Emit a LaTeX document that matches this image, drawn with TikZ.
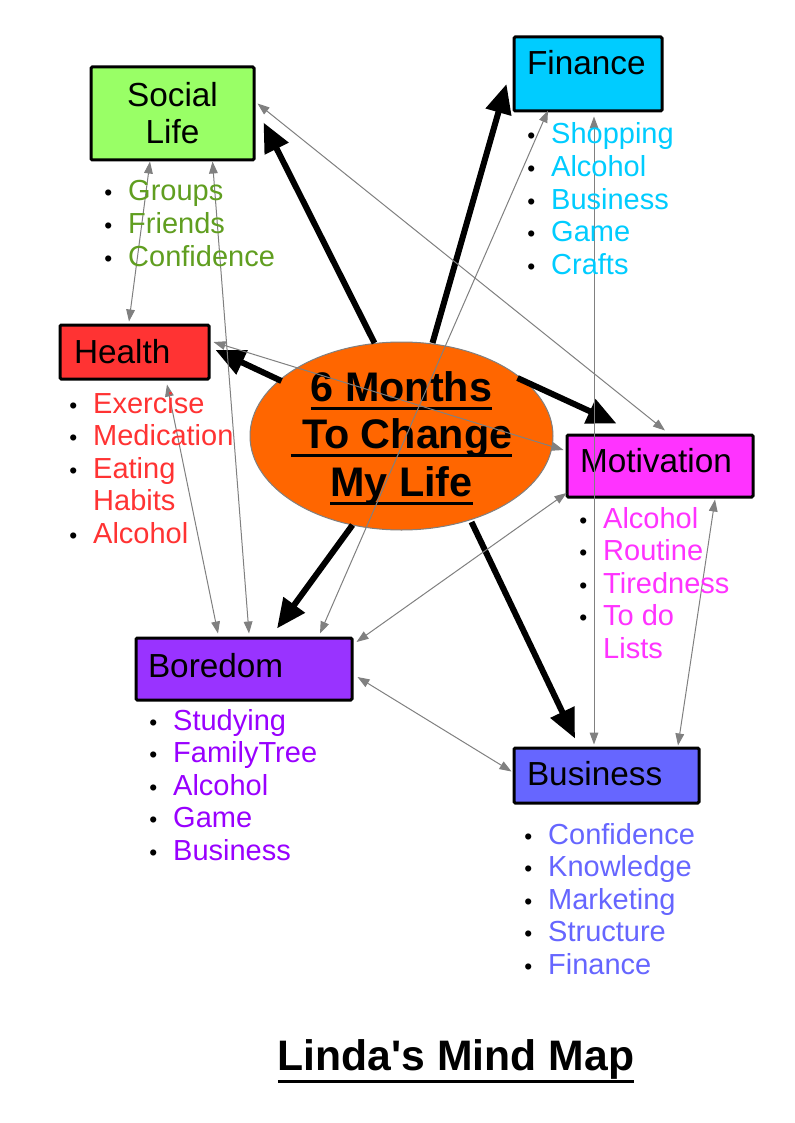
\documentclass[tikz,border=0pt]{standalone}
\usepackage{fontspec}
\setmainfont{Liberation Sans}
\usetikzlibrary{arrows.meta,shapes.geometric}
\definecolor{socialfill}{HTML}{99FF66}
\definecolor{socialtext}{RGB}{96,158,32}
\definecolor{finfill}{HTML}{00CCFF}
\definecolor{fintext}{HTML}{00CCFF}
\definecolor{healthfill}{HTML}{FF3333}
\definecolor{healthtext}{HTML}{FF3333}
\definecolor{motfill}{HTML}{FF33FF}
\definecolor{mottext}{HTML}{FF33FF}
\definecolor{borfill}{HTML}{9933FF}
\definecolor{bortext}{HTML}{9900FF}
\definecolor{busfill}{HTML}{6666FF}
\definecolor{bustext}{HTML}{6666FF}
\definecolor{corefill}{HTML}{FF6600}
\definecolor{linkgray}{HTML}{808080}
\newsavebox\ulsave
\newcommand\ulbox[3]{\sbox\ulsave{#3}\rlap{\rule[#1]{\wd\ulsave}{#2}}\usebox\ulsave}
\newcommand\bul{{\fontsize{17}{20}\selectfont\textcolor{black}{•}}}
\tikzset{
  box/.style={draw=black, line width=2.25pt, rounded corners=1pt, inner sep=0pt,
    font=\fontsize{25}{27.75}\selectfont, text=black},
  lbox/.style={box, align=left, text height=18pt},
  blist/.style={anchor=base west, inner sep=0pt, font=\fontsize{21.75}{24.4}\selectfont},
  bigarrow/.style={line width=4.5pt, -{Triangle[length=22pt,width=19pt]}},
  link/.style={draw=linkgray, line width=0.75pt,
    {Triangle[length=9pt,width=6.5pt]}-{Triangle[length=9pt,width=6.5pt]}},
  coretext/.style={align=center, inner sep=0pt, font=\bfseries\fontsize{31}{35.6}\selectfont}
}
\begin{document}
\begin{tikzpicture}[x=0.75pt,y=-0.75pt]
\useasboundingbox (0,0) rectangle (794,1123);
\fill[white] (0,0) rectangle (794,1123);

% central ellipse
\node[ellipse, draw=linkgray, line width=0.75pt, fill=corefill, minimum width=227.25pt,
  minimum height=141pt, inner sep=0pt] (core) at (401.5,436) {};

% boxes
\node[box, fill=socialfill, minimum width=122.25pt, minimum height=69.75pt, align=center]
  (social) at (172.5,113.5) {Social\\Life};
\node[lbox, fill=finfill, minimum width=111pt, minimum height=55.5pt, text width=91.5pt,
  text depth=16.5pt] (finance) at (588,74) {Finance};
\node[lbox, fill=healthfill, minimum width=111.75pt, minimum height=40.5pt, text width=90.75pt,
  text depth=1.5pt] (health) at (134.5,352) {Health};
\node[lbox, fill=motfill, minimum width=139.5pt, minimum height=46.5pt, text width=120pt,
  text depth=9pt] (motivation) at (660,466) {Motivation};
\node[lbox, fill=borfill, minimum width=162pt, minimum height=46.5pt, text width=144pt,
  text depth=6pt] (boredom) at (244,669) {Boredom};
\node[lbox, fill=busfill, minimum width=138.75pt, minimum height=41.25pt, text width=119.25pt,
  text depth=3.75pt] (business) at (606.5,775.5) {Business};

% thick arrows
\draw[bigarrow] ([shift={(-27,-93)}]core.center) -- ([shift={(8,9)}]social.east);
\draw[bigarrow] ([shift={(31,-93)}]core.center) -- ([shift={(-6,10)}]finance.west);
\draw[bigarrow] ([shift={(-120,-55)}]core.center) -- ([shift={(5,-2)}]health.east);
\draw[bigarrow] ([shift={(116,-58)}]core.center) -- ([shift={(51,-10)}]motivation.north west);
\draw[bigarrow] ([shift={(-49,89)}]core.center) -- ([shift={(33,-8)}]boredom.north);
\draw[bigarrow] ([shift={(70,86)}]core.center) -- ([shift={(-31.5,-8)}]business.north);

% central text
\node[coretext] (coretitle) at (401.5,438)
  {\ulbox{-6.4pt}{2.25pt}{6 Months}\\ \ulbox{-6.4pt}{2.25pt}{\space To Change}\\ \ulbox{-6.4pt}{2.25pt}{My Life}};

% gray links
\draw[link] ([shift={(-22.5,0)}]social.south) -- ([shift={(-5.5,-2)}]health.north);
\draw[link] ([shift={(40,0)}]social.south) -- ([shift={(5,-3)}]boredom.north);
\draw[link] ([shift={(2,-10)}]social.east) -- ([shift={(5,-3)}]motivation.north);
\draw[link] ([shift={(3,-10)}]health.east) -- ([shift={(-2,-16)}]motivation.west);
\draw[link] ([shift={(32.5,4)}]health.south) -- ([shift={(-26,-3)}]boredom.north);
\draw[link] ([shift={(-40,-2)}]finance.south) -- ([shift={(76,-3)}]boredom.north);
\draw[link] ([shift={(6,4)}]finance.south) -- ([shift={(-12.5,-2)}]business.north);
\draw[link] ([shift={(55,1)}]motivation.south) -- ([shift={(71.5,-1)}]business.north);
\draw[link] ([shift={(1,27)}]motivation.west) -- ([shift={(3,-27)}]boredom.east);
\draw[link] ([shift={(4,8)}]boredom.east) -- ([shift={(-1,-4)}]business.west);

% lists
\node[blist, text=socialtext] (social-list) at (104,201)
  {\begin{tabular}[t]{@{}l@{\hspace{12pt}}l@{}}\bul & Groups\\ \bul & Friends\\ \bul & Confidence\end{tabular}};
\node[blist, text=fintext] (finance-list) at (527,144)
  {\begin{tabular}[t]{@{}l@{\hspace{12pt}}l@{}}\bul & Shopping\\ \bul & Alcohol\\ \bul & Business\\ \bul & Game\\ \bul & Crafts\end{tabular}};
\node[blist, text=healthtext] (health-list) at (69,413)
  {\begin{tabular}[t]{@{}l@{\hspace{12pt}}l@{}}\bul & Exercise\\ \bul & Medication\\ \bul & Eating\\ & Habits\\ \bul & Alcohol\end{tabular}};
\node[blist, text=mottext] (motivation-list) at (579,528)
  {\begin{tabular}[t]{@{}l@{\hspace{12pt}}l@{}}\bul & Alcohol\\ \bul & Routine\\ \bul & Tiredness\\ \bul & To do\\ & Lists\end{tabular}};
\node[blist, text=bortext] (boredom-list) at (149,730)
  {\begin{tabular}[t]{@{}l@{\hspace{12pt}}l@{}}\bul & Studying\\ \bul & FamilyTree\\ \bul & Alcohol\\ \bul & Game\\ \bul & Business\end{tabular}};
\node[blist, text=bustext] (business-list) at (524,844)
  {\begin{tabular}[t]{@{}l@{\hspace{12pt}}l@{}}\bul & Confidence\\ \bul & Knowledge\\ \bul & Marketing\\ \bul & Structure\\ \bul & Finance\end{tabular}};

% title
\node[anchor=base, inner sep=0pt, font=\bfseries\fontsize{32}{38}\selectfont] (title) at (456,1070)
  {\ulbox{-10.1pt}{2.4pt}{Linda\textquotesingle s Mind Map}};
\end{tikzpicture}
\end{document}
